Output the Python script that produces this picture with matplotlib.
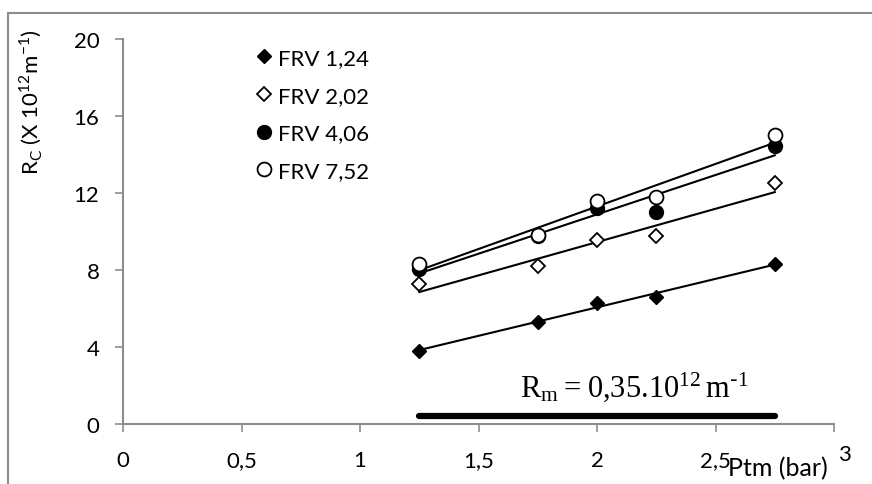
import numpy as np
import matplotlib
matplotlib.use("Agg")
import matplotlib.pyplot as plt
from matplotlib.patches import Rectangle
from matplotlib.transforms import ScaledTranslation

# ---- data ----
ptm = [1.25, 1.75, 2.0, 2.25, 2.75]
frv_124 = [3.8, 5.3, 6.3, 6.6, 8.3]
frv_202 = [7.25, 8.2, 9.55, 9.75, 12.5]
frv_406 = [8.05, 9.75, 11.2, 11.0, 14.45]
frv_752 = [8.3, 9.8, 11.6, 11.8, 15.0]
series_labels = ["FRV 1,24", "FRV 2,02", "FRV 4,06", "FRV 7,52"]
rm_x = [1.25, 2.75]
rm_level = [0.4, 0.4]
xticks = [0, 0.5, 1, 1.5, 2, 2.5, 3]
xtick_labels = ["0", "0,5", "1", "1,5", "2", "2,5", "3"]
yticks = [0, 4, 8, 12, 16, 20]

plt.rcParams['font.family'] = ['Lato', 'DejaVu Sans']

W, H = 872, 485
fig = plt.figure(figsize=(W / 100, H / 100), dpi=100)
ax = fig.add_axes([123 / W, 1 - 425 / H, (834 - 123) / W, (425 - 40) / H])

# outer border (extends off the right/bottom of the picture)
fig.patches.append(Rectangle((8 / W, -0.1), 1.2, 1 - 14 / H + 0.1, transform=fig.transFigure,
                             fill=False, edgecolor='#8c8c8c', linewidth=1.5))

styles = [
    dict(marker='D', mfc='black', mec='black', ms=7),
    dict(marker='D', mfc='white', mec='black', ms=7, mew=1.3),
    dict(marker='o', mfc='black', mec='black', ms=10),
    dict(marker='o', mfc='white', mec='black', ms=10, mew=1.3),
]
data = [frv_124, frv_202, frv_406, frv_752]
x = np.array(ptm)
handles = []
for ys in data:
    k, b = np.polyfit(x, ys, 1)
    ax.plot([x[0], x[-1]], [k * x[0] + b, k * x[-1] + b], color='black', lw=1.5, zorder=2)
for ys, st, lab in zip(data, styles, series_labels):
    h, = ax.plot(ptm, ys, linestyle='none', label=lab, zorder=3, **st)
    handles.append(h)

ax.plot(rm_x, rm_level, color='black', lw=4.5, solid_capstyle='round', zorder=2)
ax.text(2.16, 1.95, r"$\mathregular{R_m = 0{,}35.10^{12}\,m^{\text{-}1}}$", ha='center', va='center',
        fontsize=22, family='Liberation Serif')

ax.set_xlim(0, 3)
ax.set_ylim(0, 20)
ax.set_xticks(xticks)
ax.set_xticklabels(xtick_labels)
ax.set_yticks(yticks)
for s in ['top', 'right']:
    ax.spines[s].set_visible(False)
for s in ['left', 'bottom']:
    ax.spines[s].set_color('#8c8c8c')
    ax.spines[s].set_linewidth(1.5)
ax.tick_params(axis='both', direction='out', length=6, width=1.2, color='#8c8c8c',
               labelsize=16, labelcolor='black')
ax.tick_params(axis='x', pad=13)
ax.tick_params(axis='y', pad=11)
# last x tick label pushed aside by the axis title, as in the reference
last = ax.get_xticklabels()[-1]
last.set_transform(last.get_transform() + ScaledTranslation(10 / 100, 6 / 100, fig.dpi_scale_trans))

leg = ax.legend(handles=handles, loc='upper left', bbox_to_anchor=(0.176, 1.0), frameon=False,
                fontsize=16, handlelength=0.6, handletextpad=0.35, labelspacing=0.8,
                borderaxespad=0)

fig.text(31 / W, 1 - 102 / H, r"R$_\mathregular{C}$ (X 10$^\mathregular{12}$m$^\mathregular{-1}$)",
         rotation=90, ha='center', va='center', fontsize=16)
fig.text(728 / W, 1 - 469 / H, "Ptm (bar)", ha='left', va='center', fontsize=18)

fig.savefig("out.png", dpi=100)
